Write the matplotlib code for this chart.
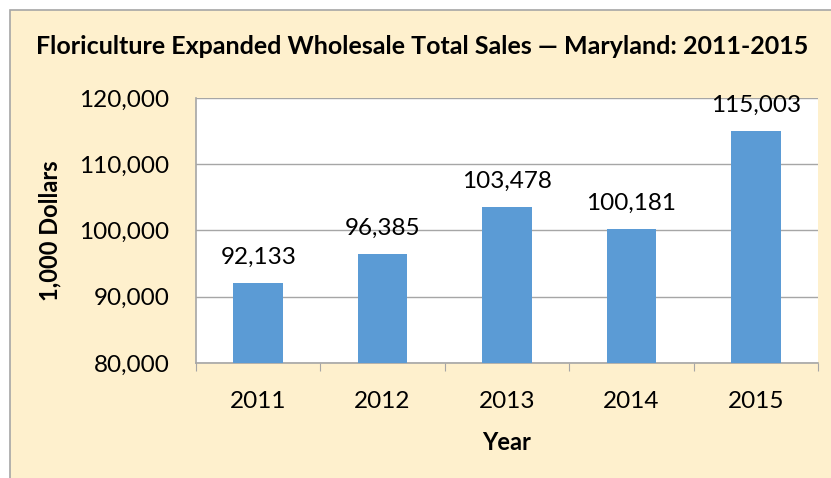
import matplotlib.pyplot as plt
from matplotlib.patches import Rectangle

years = ['2011', '2012', '2013', '2014', '2015']
sales = [92133, 96385, 103478, 100181, 115003]
yticks = [80000, 90000, 100000, 110000, 120000]

plt.rcParams['font.family'] = ['Lato', 'DejaVu Sans']

W, H = 831, 478
fig = plt.figure(figsize=(W / 100, H / 100), dpi=100, facecolor='white')

# chart area background with border (runs off the right/bottom edges)
fig.patches.append(Rectangle((10 / W, -0.1), 1.2, 1.1 - 10 / H, transform=fig.transFigure,
                             facecolor='#FEF0CD', edgecolor='#A6A6A6', linewidth=1.2, zorder=-5))

ax = fig.add_axes([196 / W, 1 - 363 / H, (818 - 196) / W, (363 - 98) / H])
ax.set_zorder(2)
ax.set_facecolor('white')

x = range(len(years))
bars = ax.bar(x, sales, width=0.4, color='#5B9BD5', zorder=3)
for xi, v in zip(x, sales):
    ax.text(xi, v + 2300, f'{v:,}', ha='center', va='bottom', fontsize=17.5, color='black')

ax.set_ylim(80000, 120000)
ax.set_xlim(-0.5, len(years) - 0.5)
ax.set_yticks(yticks)
ax.set_yticklabels([f'{t:,}' for t in yticks], fontsize=17.5)
ax.yaxis.grid(True, color='#A6A6A6', linewidth=1, zorder=0)
ax.tick_params(axis='y', length=0, pad=19)

ax.set_xticks([i - 0.5 for i in range(len(years) + 1)], minor=False)
ax.set_xticklabels([])
ax.set_xticks(list(x), minor=True)
ax.set_xticklabels(years, minor=True, fontsize=17.5)
ax.tick_params(axis='x', which='major', length=6, color='#A6A6A6', direction='out')
ax.tick_params(axis='x', which='minor', length=0, pad=20)

for s in ['top', 'right']:
    ax.spines[s].set_visible(False)
for s in ['left', 'bottom']:
    ax.spines[s].set_color('#A6A6A6')
    ax.spines[s].set_linewidth(1.2)

ax.set_xlabel('Year', fontsize=17, fontweight='bold', labelpad=14)
ax.set_ylabel('1,000 Dollars', fontsize=17, fontweight='bold', labelpad=13)

fig.text(422 / W, 1 - 46 / H, 'Floriculture Expanded Wholesale Total Sales \u2014 Maryland: 2011-2015',
         ha='center', va='center', fontsize=18, fontweight='bold')

fig.savefig('out.png', dpi=100, facecolor=fig.get_facecolor())
